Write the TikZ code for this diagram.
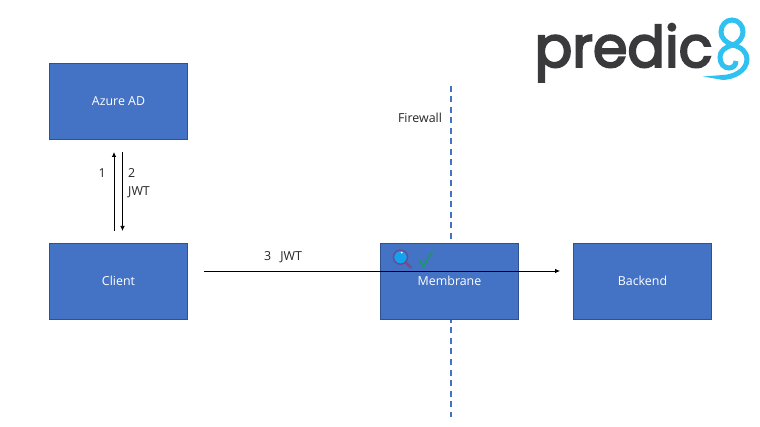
\documentclass[tikz,border=0pt]{standalone}
\usepackage{fontspec}
\setmainfont{Open Sans}
\newfontfamily\logofont[FakeBold=3.5,FakeStretch=0.975]{Poppins}
\usetikzlibrary{arrows.meta}
\definecolor{boxblue}{HTML}{4472C4}
\definecolor{boxedge}{HTML}{2F528F}
\definecolor{logodark}{HTML}{3A3A3C}
\definecolor{logocyan}{HTML}{2FC1EF}
\definecolor{lensfill}{HTML}{12A2EE}
\definecolor{lensring}{HTML}{6A4A90}
\definecolor{lenshandle}{HTML}{74508A}
\definecolor{tickgreen}{HTML}{12A050}
\tikzset{
  blockbox/.style={draw=boxedge,fill=boxblue,line width=0.7pt,text=white,minimum width=138.5pt,minimum height=76pt,inner sep=0pt,font=\fontsize{12.4}{14}\selectfont},
  lbl/.style={inner sep=0pt,align=left,font=\fontsize{12.4}{18}\selectfont,text=black!85},
  conn/.style={draw=black,line width=0.75pt,-{Latex[length=5pt,width=4.5pt]}},
  wall/.style={draw=boxblue,line width=1.4pt,dash pattern=on 6pt off 4.5pt},
  eightstroke/.style={draw=logocyan,line width=5pt}
}
\begin{document}
\begin{tikzpicture}[x=1pt,y=-1pt]
\useasboundingbox (0,0) rectangle (760,427);
\fill[white] (0,0) rectangle (760,427);
% firewall
\coordinate (wallTop) at (451,86);
\coordinate (wallBottom) at (451,417);
\draw[wall] (wallTop) -- (wallBottom);
% blocks
\node[blockbox] (azure) at (118.5,101) {Azure AD};
\node[blockbox] (client) at (118.5,281.5) {\raisebox{1pt}{Client}};
\node[blockbox] (membrane) at (449.5,281.5) {\raisebox{1pt}{Membrane}};
\node[blockbox] (backend) at (642.5,281.5) {\raisebox{1pt}{Backend}};
% labels
\node[lbl] (firewall) at (420,118) {Firewall};
\node[lbl,anchor=east] (one) at (106,173) {1};
\node[lbl,anchor=north west] (two) at (128,168.5) {2\\JWT};
\node[lbl,anchor=west] (three) at (264,257.5) {3\hspace{9pt}JWT};
% connectors
\coordinate (upA) at (114,231);
\coordinate (upB) at (114,152);
\coordinate (downA) at (122.5,152);
\coordinate (downB) at (122.5,231);
\coordinate (jwtA) at (204,271);
\coordinate (jwtB) at (560,271);
\draw[conn] (upA) -- (upB);
\draw[conn] (downA) -- (downB);
\draw[conn] (jwtA) -- (jwtB);
% magnifier and check
\draw[draw=lenshandle,line width=2.6pt,line cap=round] (405.5,262.5) -- (411,267.5);
\draw[fill=lensfill,draw=lensring,line width=1.4pt] (400.5,257.2) circle (7);
\fill[white] (401.7,252.6) circle (1);
\draw[draw=tickgreen,line width=1.3pt] (419.3,260) -- (423.3,266.7) -- (432.7,251);
% logo
\node[anchor=base west,inner sep=0pt,text=logodark,font=\logofont\fontsize{57}{57}\selectfont] (logo) at (534.5,67) {predic};
\draw[eightstroke] (733,45) .. controls (726,43) and (721,38) .. (721,32) .. controls (721,25) and (726,20) .. (732,20) .. controls (738,20) and (743,25) .. (743,32) .. controls (743,38) and (738,43) .. (733,45) .. controls (725,47) and (720,51) .. (720,57) .. controls (720,64) and (724,68) .. (729,68) .. controls (733,68) and (736,65) .. (736,61);
\draw[eightstroke] (733,45) .. controls (741,47) and (747,52) .. (747,59) .. controls (747,71) and (733,77.5) .. (722,77.5);
\fill[logocyan] (723,75) -- (703,76.5) -- (723,80) -- cycle;
\end{tikzpicture}
\end{document}
